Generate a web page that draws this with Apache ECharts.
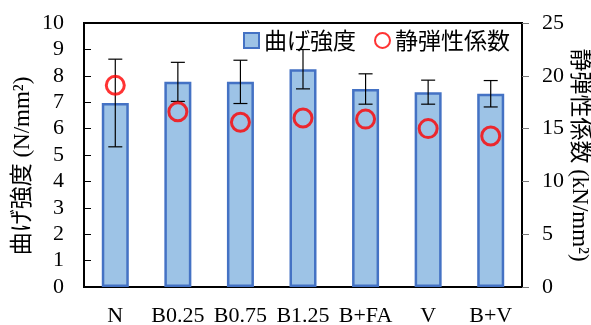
<!DOCTYPE html>
<html>
<head>
<meta charset="utf-8">
<script src="https://cdn.jsdelivr.net/npm/echarts@6/dist/echarts.min.js"></script>
<style>
  html, body { margin: 0; padding: 0; background: #fff; }
  #chart { width: 591px; height: 325px; }
</style>
</head>
<body>
<div id="chart"></div>
<script>
// データ
var categories = ['N', 'B0.25', 'B0.75', 'B1.25', 'B+FA', 'V', 'B+V'];
var bendStrength = [6.97, 7.77, 7.77, 8.25, 7.50, 7.38, 7.32];
var bendError = [1.66, 0.74, 0.82, 0.745, 0.575, 0.455, 0.50];
var elasticModulus = [19.1, 16.6, 15.6, 16.0, 15.9, 15.0, 14.3];

var serif = "'Liberation Serif', 'Times New Roman', 'Noto Sans CJK JP'";
var jp = "'Noto Sans CJK JP', sans-serif";

var myChart = echarts.init(document.getElementById('chart'));

var errorData = bendStrength.map(function (v, i) {
    return [i, v - bendError[i], v + bendError[i]];
});

var option = {
    animation: false,
    grid: {
        left: 84, right: 69, top: 23, bottom: 38,
        outerBoundsMode: 'none',
        show: true, borderColor: '#000', borderWidth: 2
    },
    legend: {
        top: 24,
        right: 76,
        itemGap: 18,
        itemWidth: 15,
        itemHeight: 15,
        textStyle: { fontFamily: jp, fontSize: 23, color: '#000' },
        data: [
            { name: '曲げ強度', icon: 'rect' },
            { name: '静弾性係数', icon: 'circle' }
        ]
    },
    xAxis: {
        type: 'category',
        data: categories,
        axisLine: { lineStyle: { color: '#000', width: 2 } },
        axisTick: { inside: true, length: 6, lineStyle: { color: '#000' } },
        axisLabel: { interval: 0, hideOverlap: false, fontFamily: serif, fontSize: 22, color: '#000', margin: 18 }
    },
    yAxis: [
        {
            type: 'value', min: 0, max: 10, interval: 1,
            name: '曲げ強度 (N/mm²)',
            nameLocation: 'middle',
            nameGap: 50,
            nameMoveOverlap: false,
            nameTextStyle: { fontFamily: serif, fontSize: 23, color: '#000', padding: [0, 22, 0, 0] },
            axisLine: { show: true, lineStyle: { color: '#000', width: 2 } },
            axisTick: { show: true, inside: true, length: 7, lineStyle: { color: '#000' } },
            axisLabel: { fontFamily: serif, fontSize: 22, color: '#000', margin: 20 },
            splitLine: { show: false }
        },
        {
            type: 'value', min: 0, max: 25, interval: 5,
            name: '静弾性係数 (kN/mm²)',
            nameLocation: 'middle',
            nameGap: 46,
            nameMoveOverlap: false,
            nameRotate: -90,
            nameTextStyle: { fontFamily: serif, fontSize: 23, color: '#000' },
            axisLine: { show: true, lineStyle: { color: '#000', width: 2 } },
            axisTick: { show: true, inside: false, length: 7, lineStyle: { color: '#777' } },
            axisLabel: { fontFamily: serif, fontSize: 22, color: '#000', margin: 20 },
            splitLine: { show: false }
        }
    ],
    series: [
        {
            name: '曲げ強度',
            type: 'bar',
            data: bendStrength,
            barWidth: 27,
            itemStyle: { color: '#9DC3E6', borderColor: '#4472C4', borderWidth: 2.5 }
        },
        {
            name: 'errorbar',
            type: 'custom',
            data: errorData,
            z: 5,
            renderItem: function (params, api) {
                var x = api.value(0);
                var lo = api.coord([x, api.value(1)]);
                var hi = api.coord([x, api.value(2)]);
                var cap = 7;
                var style = { stroke: '#000', lineWidth: 1.2 };
                return {
                    type: 'group',
                    children: [
                        { type: 'line', shape: { x1: lo[0], y1: lo[1], x2: hi[0], y2: hi[1] }, style: style },
                        { type: 'line', shape: { x1: hi[0] - cap, y1: hi[1], x2: hi[0] + cap, y2: hi[1] }, style: style },
                        { type: 'line', shape: { x1: lo[0] - cap, y1: lo[1], x2: lo[0] + cap, y2: lo[1] }, style: style }
                    ]
                };
            }
        },
        {
            name: '静弾性係数',
            type: 'scatter',
            yAxisIndex: 1,
            data: elasticModulus,
            symbol: 'circle',
            symbolSize: 18,
            z: 6,
            itemStyle: { color: 'rgba(0,0,0,0)', borderColor: '#FF0000', borderWidth: 3 }
        }
    ]
};

myChart.setOption(option, true);
</script>
</body>
</html>
